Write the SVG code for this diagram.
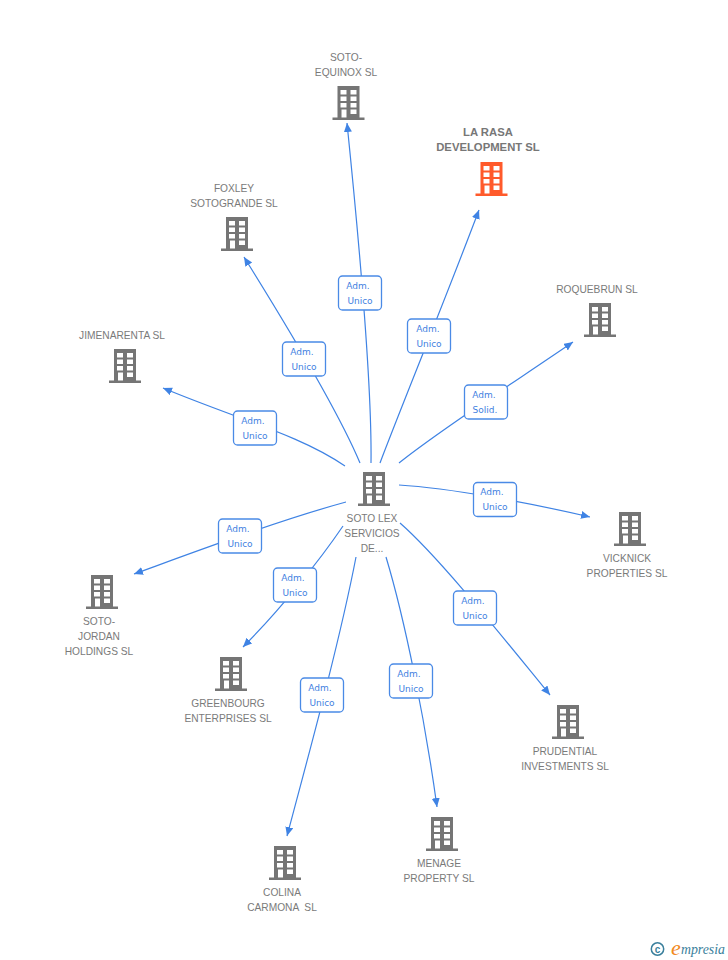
<svg xmlns="http://www.w3.org/2000/svg" width="728" height="960" viewBox="0 0 728 960">
<style>
.c{fill:none;stroke:#3f83e4;stroke-width:1.2;marker-end:url(#a)}
.t{font:10.2px "Liberation Sans",Arial,sans-serif;fill:#7a7a7a;text-anchor:middle}
.b{font:bold 11.300px "Liberation Sans",Arial,sans-serif;fill:#777;text-anchor:middle}
.l{fill:#fff;stroke:#4a8ae6;stroke-width:1.3}
.lt{font:9px "DejaVu Sans",Verdana,sans-serif;fill:#3f7fdf;text-anchor:middle}
.g{fill:#757575}.o{fill:#ff5a2b}
</style>
<defs>
<marker id="a" markerUnits="userSpaceOnUse" markerWidth="10" markerHeight="10" refX="9" refY="4" orient="auto"><path d="M0,0L9,4L0,8z" fill="#3f83e4"/></marker>
<path id="i" fill-rule="evenodd" d="M5,0H27V31.500H32V34H0V31.500H5ZM8,4V8.500H14V4ZM18,4V8.500H24V4ZM8,10.500V15H14V10.500ZM18,10.500V15H24V10.500ZM8,17V21.500H14V17ZM18,17V21.500H24V17ZM18,23.500V28H24V23.500ZM9,23.500V31.500H14V23.500Z"/>
<rect id="lb" class="l" width="43" height="34" rx="4"/>
</defs>
<g id="connectors">
<path class="c" d="M371,463C372,390 362,270 347,123"/>
<path class="c" d="M380,463C400,410 445,300 479,210"/>
<path class="c" d="M360,463C342,420 302,350 244,257"/>
<path class="c" d="M345,466C300,435 240,420 163,388"/>
<path class="c" d="M399,463C440,430 510,385 573,342"/>
<path class="c" d="M399,485C450,488 530,503 590,517"/>
<path class="c" d="M400,523C440,558 505,640 550,695"/>
<path class="c" d="M386,557C405,620 425,720 437,807"/>
<path class="c" d="M356,557C340,640 310,750 287,836"/>
<path class="c" d="M343,526C320,560 280,610 243,647"/>
<path class="c" d="M346,502C280,520 200,550 134,574"/>
</g>
<g id="labels">
<g><use href="#lb" x="338.500" y="276"/><text class="lt" x="358" y="289">Adm.</text><text class="lt" x="360" y="304">Unico</text></g>
<g><use href="#lb" x="407.500" y="319"/><text class="lt" x="428" y="332">Adm.</text><text class="lt" x="429" y="347">Unico</text></g>
<g><use href="#lb" x="282.500" y="342"/><text class="lt" x="302" y="355">Adm.</text><text class="lt" x="304" y="370">Unico</text></g>
<g><use href="#lb" x="233.500" y="411"/><text class="lt" x="253" y="424">Adm.</text><text class="lt" x="255" y="439">Unico</text></g>
<g><use href="#lb" x="464.500" y="385"/><text class="lt" x="484" y="398">Adm.</text><text class="lt" x="485" y="413">Solid.</text></g>
<g><use href="#lb" x="473.500" y="482.500"/><text class="lt" x="492" y="495">Adm.</text><text class="lt" x="495" y="510">Unico</text></g>
<g><use href="#lb" x="453.500" y="591"/><text class="lt" x="473" y="604">Adm.</text><text class="lt" x="475" y="619">Unico</text></g>
<g><use href="#lb" x="389.500" y="664"/><text class="lt" x="409" y="677">Adm.</text><text class="lt" x="411" y="692">Unico</text></g>
<g><use href="#lb" x="300.500" y="678"/><text class="lt" x="320" y="691">Adm.</text><text class="lt" x="322" y="706">Unico</text></g>
<g><use href="#lb" x="273.500" y="568"/><text class="lt" x="293" y="581">Adm.</text><text class="lt" x="295" y="596">Unico</text></g>
<g><use href="#lb" x="218.500" y="519"/><text class="lt" x="238" y="532">Adm.</text><text class="lt" x="240" y="547">Unico</text></g>
</g>
<g id="n-soto-lex"><use href="#i" class="g" x="358" y="472"/><text class="t" x="372" y="522">SOTO LEX</text><text class="t" x="372" y="537">SERVICIOS</text><text class="t" x="372" y="552">DE...</text></g>
<g id="n-equinox"><text class="t" x="346" y="61">SOTO-</text><text class="t" x="346" y="76">EQUINOX SL</text><use href="#i" class="g" x="332.500" y="86"/></g>
<g id="n-larasa"><text class="b" x="488" y="136">LA RASA</text><text class="b" x="488" y="151">DEVELOPMENT SL</text><use href="#i" class="o" x="475.500" y="162"/></g>
<g id="n-foxley"><text class="t" x="234" y="192">FOXLEY</text><text class="t" x="234" y="207">SOTOGRANDE SL</text><use href="#i" class="g" x="221" y="217"/></g>
<g id="n-jimena"><text class="t" x="122" y="339">JIMENARENTA SL</text><use href="#i" class="g" x="109" y="349"/></g>
<g id="n-roque"><text class="t" x="597" y="293">ROQUEBRUN SL</text><use href="#i" class="g" x="584" y="303"/></g>
<g id="n-vick"><use href="#i" class="g" x="614" y="512"/><text class="t" x="627" y="562">VICKNICK</text><text class="t" x="627" y="577">PROPERTIES SL</text></g>
<g id="n-jordan"><use href="#i" class="g" x="86" y="575"/><text class="t" x="99" y="625">SOTO-</text><text class="t" x="99" y="640">JORDAN</text><text class="t" x="99" y="655">HOLDINGS SL</text></g>
<g id="n-green"><use href="#i" class="g" x="215" y="657"/><text class="t" x="228" y="707">GREENBOURG</text><text class="t" x="228" y="722">ENTERPRISES SL</text></g>
<g id="n-prud"><use href="#i" class="g" x="552" y="705"/><text class="t" x="565" y="755">PRUDENTIAL</text><text class="t" x="565" y="770">INVESTMENTS SL</text></g>
<g id="n-colina"><use href="#i" class="g" x="269" y="846"/><text class="t" x="282" y="896">COLINA</text><text class="t" x="282" y="911" xml:space="preserve">CARMONA  SL</text></g>
<g id="n-menage"><use href="#i" class="g" x="426" y="817"/><text class="t" x="439" y="867">MENAGE</text><text class="t" x="439" y="882">PROPERTY SL</text></g>
<g id="logo"><circle cx="657.500" cy="949" r="6.200" fill="none" stroke="#3a7f9c" stroke-width="1.500"/><text x="657.500" y="952.500" font-family="Liberation Sans,sans-serif" font-size="10" font-weight="bold" fill="#3a7f9c" text-anchor="middle">c</text><text x="671" y="955" font-family="Liberation Serif,serif" font-size="22" font-style="italic" fill="#f28a1e">e</text><text x="681" y="954" font-family="Liberation Serif,serif" font-size="13.800" font-style="italic" fill="#3a7f9c">mpresia</text></g>
</svg>
